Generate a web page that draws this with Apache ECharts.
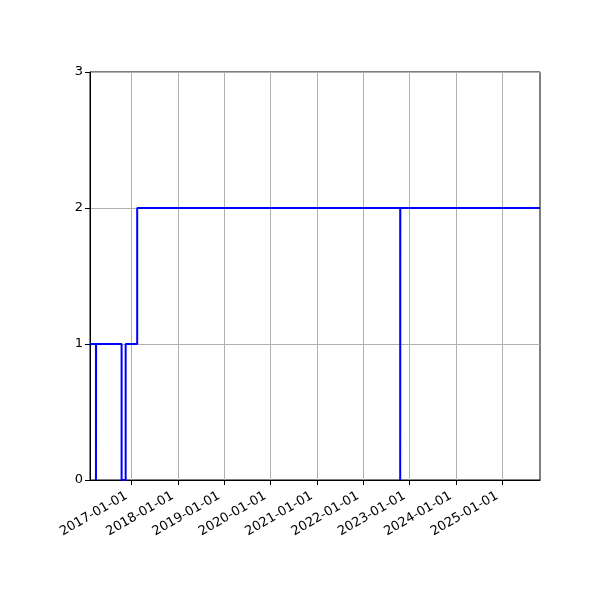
<!DOCTYPE html>
<html>
<head>
<meta charset="utf-8">
<script src="https://cdn.jsdelivr.net/npm/echarts@6/dist/echarts.min.js"></script>
<style>
  html, body { margin: 0; padding: 0; background: #fff; }
  #chart { width: 600px; height: 600px; }
</style>
</head>
<body>
<div id="chart"></div>
<script>
// change points: value holds from this date until the next one
var stepDates = [
  "2016-02-08", "2016-03-26", "2016-03-27", "2016-10-14", "2016-11-15",
  "2017-02-14", "2022-10-19", "2022-10-20", "2025-10-25"
];
var stepValues = [1, 0, 1, 0, 1, 2, 0, 2, 2];
var tickDates = [
  "2017-01-01", "2018-01-01", "2019-01-01", "2020-01-01", "2021-01-01",
  "2022-01-01", "2023-01-01", "2024-01-01", "2025-01-01"
];

function utc(s) {
  var p = s.split("-");
  return Date.UTC(+p[0], +p[1] - 1, +p[2]);
}

var seriesData = stepDates.map(function (d, i) {
  return [utc(d), stepValues[i]];
});
var tickTimes = tickDates.map(utc);

var myChart = echarts.init(document.getElementById("chart"));
var option = {
  animation: false,
  backgroundColor: "#fff",
  textStyle: { fontFamily: "DejaVu Sans" },
  grid: {
    left: 90,
    right: 60,
    top: 72,
    bottom: 120,
    show: true,
    borderColor: "#000",
    borderWidth: 1,
    backgroundColor: "transparent"
  },
  xAxis: {
    type: "value",
    min: utc(stepDates[0]),
    max: utc(stepDates[stepDates.length - 1]),
    axisLine: { show: true, onZero: false, lineStyle: { color: "#000", width: 1 } },
    axisTick: {
      show: true,
      length: 5,
      customValues: tickTimes,
      lineStyle: { color: "#000", width: 1 }
    },
    axisLabel: {
      customValues: tickTimes,
      rotate: 30,
      fontSize: 13,
      color: "#000",
      margin: 12,
      padding: [0, 6, 0, 0],
      formatter: function (v) {
        return echarts.time.format(v, "{yyyy}-{MM}-{dd}", true);
      }
    },
    splitLine: { show: false }
  },
  yAxis: {
    type: "value",
    min: 0,
    max: 3,
    interval: 1,
    axisLine: { show: true, lineStyle: { color: "#000", width: 1 } },
    axisTick: { show: true, length: 5, lineStyle: { color: "#000", width: 1 } },
    axisLabel: { fontSize: 13, color: "#000", margin: 7 },
    splitLine: { show: true, lineStyle: { color: "#b0b0b0", width: 1 } }
  },
  series: [
    {
      type: "line",
      step: "end",
      data: seriesData,
      showSymbol: false,
      symbol: "none",
      lineStyle: { color: "#0000ff", width: 2 },
      z: 3,
      markLine: {
        silent: true,
        symbol: "none",
        label: { show: false },
        lineStyle: { color: "#b0b0b0", width: 1, type: "solid" },
        z: 1,
        data: tickTimes.map(function (t) { return { xAxis: t }; })
      }
    }
  ]
};
myChart.setOption(option);
window.addEventListener("resize", function () {
  myChart.resize();
});
</script>
</body>
</html>
